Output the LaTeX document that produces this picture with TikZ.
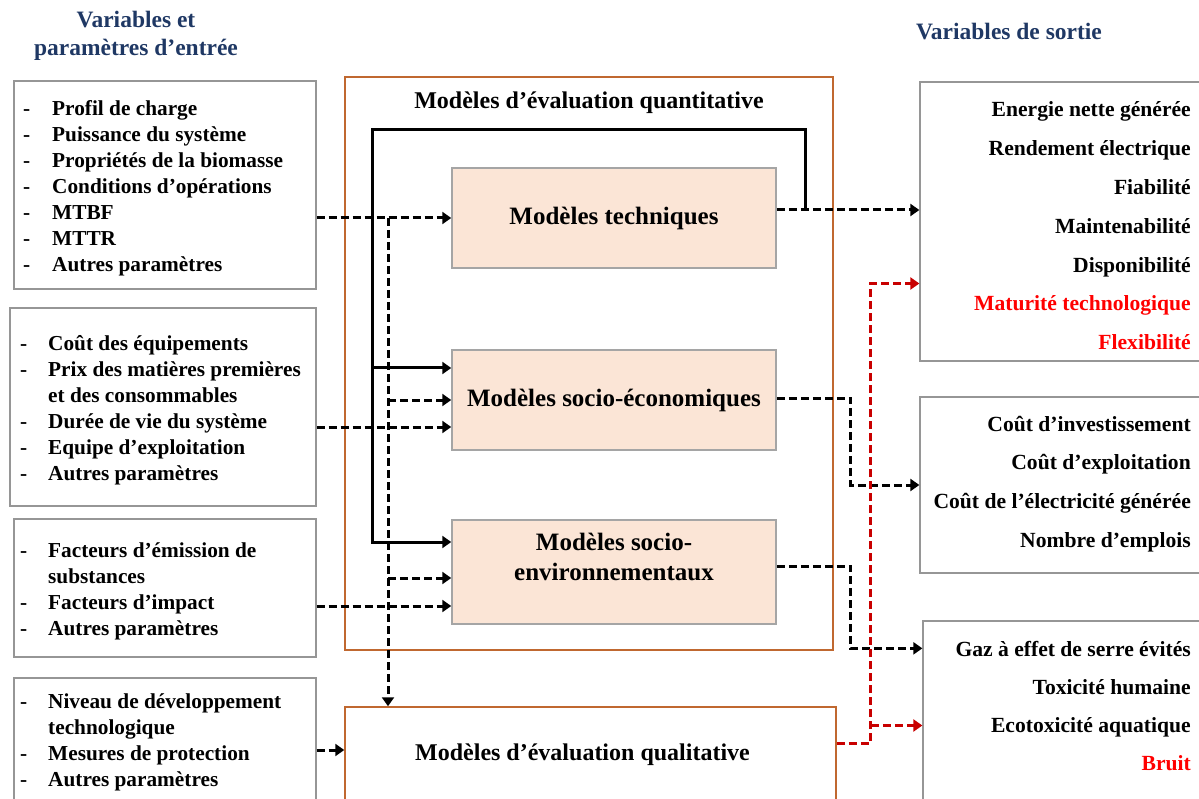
\documentclass[tikz,border=0pt]{standalone}
\usepackage{fontspec}
\setmainfont{Liberation Serif}
\usetikzlibrary{arrows.meta,calc}

\definecolor{boxgray}{RGB}{150,150,150}
\definecolor{modgray}{RGB}{165,165,165}
\definecolor{modfill}{RGB}{251,229,214}
\definecolor{evalbrown}{RGB}{192,104,48}
\definecolor{headblue}{RGB}{31,56,100}
\definecolor{textred}{RGB}{255,0,0}
\definecolor{linered}{RGB}{200,0,0}

\tikzset{
  head/.style={align=center, text=headblue, font=\fontsize{23.5}{28}\selectfont\bfseries},
  listbox/.style={draw=boxgray, line width=1.3pt},
  list/.style={anchor=west, inner sep=0pt, font=\fontsize{21.3}{26}\selectfont\bfseries},
  outtxt/.style={anchor=east, align=right, inner sep=0pt, font=\fontsize{21.6}{#1}\selectfont\bfseries},
  evalbox/.style={draw=evalbrown, line width=1.5pt},
  modbox/.style={draw=modgray, fill=modfill, line width=1.5pt, minimum width=324pt,
    minimum height=100pt, align=center, font=\fontsize{25}{30}\selectfont\bfseries},
  title/.style={align=center, font=\fontsize{24}{30}\selectfont\bfseries},
  flow/.style={line width=3pt, dash pattern=on 8pt off 4pt, -{Triangle[length=9pt,width=12pt]}},
  redflow/.style={flow, draw=linered, -{Triangle[length=9pt,width=12pt,fill=linered]}},
  back/.style={line width=3pt, -{Triangle[length=9pt,width=12pt]}}
}

\begin{document}
\begin{tikzpicture}[x=1pt,y=-1pt]
  \useasboundingbox (0,0) rectangle (1199,799);

  \node[head] (hin) at (136,36) {Variables et\\paramètres d’entrée};
  \node[head] (hout) at (1009,32) {Variables de sortie};

  \node[listbox, minimum width=302pt, minimum height=208pt] (in1) at (165,185) {};
  \node[listbox, minimum width=306pt, minimum height=198pt] (in2) at (163,407) {};
  \node[listbox, minimum width=302pt, minimum height=138pt] (in3) at (165,588) {};
  \node[listbox, minimum width=302pt, minimum height=152pt] (in4) at (165,754) {};

  \node[list] (in1t) at (23,188) {\begin{tabular}{@{}p{29pt}@{}l@{}}
    -&Profil de charge\\ -&Puissance du système\\ -&Propriétés de la biomasse\\
    -&Conditions d’opérations\\ -&MTBF\\ -&MTTR\\ -&Autres paramètres
  \end{tabular}};
  \node[list] (in2t) at (20,410) {\begin{tabular}{@{}p{28pt}@{}l@{}}
    -&Coût des équipements\\ -&Prix des matières premières\\ &et des consommables\\
    -&Durée de vie du système\\ -&Equipe d’exploitation\\ -&Autres paramètres
  \end{tabular}};
  \node[list] (in3t) at (20,591) {\begin{tabular}{@{}p{28pt}@{}l@{}}
    -&Facteurs d’émission de\\ &substances\\ -&Facteurs d’impact\\ -&Autres paramètres
  \end{tabular}};
  \node[list] (in4t) at (20,742) {\begin{tabular}{@{}p{28pt}@{}l@{}}
    -&Niveau de développement\\ &technologique\\ -&Mesures de protection\\ -&Autres paramètres
  \end{tabular}};

  \node[evalbox, minimum width=488pt, minimum height=573pt] (quanti) at (589,363.5) {};
  \node[title] (quantit) at (589,103) {Modèles d’évaluation quantitative};
  \node[evalbox, minimum width=491pt, minimum height=98pt] (quali) at (590.5,756) {};
  \node[title] (qualit) at ($(quali.center)+(-8,-1)$) {Modèles d’évaluation qualitative};

  \node[modbox] (tech) at (614,218) {Modèles techniques};
  \node[modbox] (eco) at (614,400) {Modèles socio-économiques};
  \node[modbox, minimum height=104pt] (env) at (614,572) {};
  \node[title, font=\fontsize{25}{30}\selectfont\bfseries] (envt) at ($(env.center)+(0,-15)$)
    {Modèles socio-\\environnementaux};

  \node[listbox, minimum width=290pt, minimum height=279pt] (out1) at (1065,221.5) {};
  \node[listbox, minimum width=290pt, minimum height=176pt] (out2) at (1065,485) {};
  \node[listbox, minimum width=287pt, minimum height=209pt] (out3) at (1066.5,725.5) {};

  \node[outtxt=38.8] (out1t) at (1191,226) {Energie nette générée\\ Rendement électrique\\
    Fiabilité\\ Maintenabilité\\ Disponibilité\\ \textcolor{textred}{Maturité technologique}\\
    \textcolor{textred}{Flexibilité}};
  \node[outtxt=38.7] (out2t) at (1191,484) {Coût d’investissement\\ Coût d’exploitation\\
    Coût de l’électricité générée\\ Nombre d’emplois};
  \node[outtxt=38.3] (out3t) at (1191,706) {Gaz à effet de serre évités\\ Toxicité humaine\\
    Ecotoxicité aquatique\\ \textcolor{textred}{Bruit}};

  \coordinate (split) at (388,218);
  \draw[flow] (in1.east |- tech.west) -- (tech.west);
  \draw[flow] (split) -- (split |- quali.north);
  \draw[flow] (split |- eco.west) -- (eco.west);
  \draw[flow] ($(split |- env.west)+(0,6)$) -- ($(env.west)+(0,6)$);
  \draw[flow] ($(in2.east |- eco.west)+(0,27)$) -- ($(eco.west)+(0,27)$);
  \draw[flow] ($(in3.east |- env.west)+(0,34)$) -- ($(env.west)+(0,34)$);
  \draw[flow] ($(in4.east |- quali.west)+(0,-6)$) -- ($(quali.west)+(0,-6)$);

  \coordinate (techout) at ($(tech.east)+(0,-8)$);
  \coordinate (fb) at ($(techout)+(29,0)$);
  \coordinate (top) at (372,130);
  \draw[back] (fb) |- (top) |- ($(env.west)+(0,-30)$);
  \draw[back] ($(top |- eco.west)+(0,-32)$) -- ($(eco.west)+(0,-32)$);

  \draw[flow] (techout) -- (techout -| out1.west);
  \draw[flow] ($(eco.east)+(0,-2)$) -- ++(74,0) |- (out2.west);
  \draw[flow] ($(env.east)+(0,-6)$) -- ++(74,0) |- ($(out3.north west)+(0,28)$);
  \coordinate (redv) at ($(quali.east)+(34,-13)$);
  \draw[redflow] ($(quali.east)+(0,-13)$) -- (redv) |- ($(out1.west)+(0,62)$);
  \draw[redflow] (redv |- out3.west) -- (out3.west);

\end{tikzpicture}
\end{document}
